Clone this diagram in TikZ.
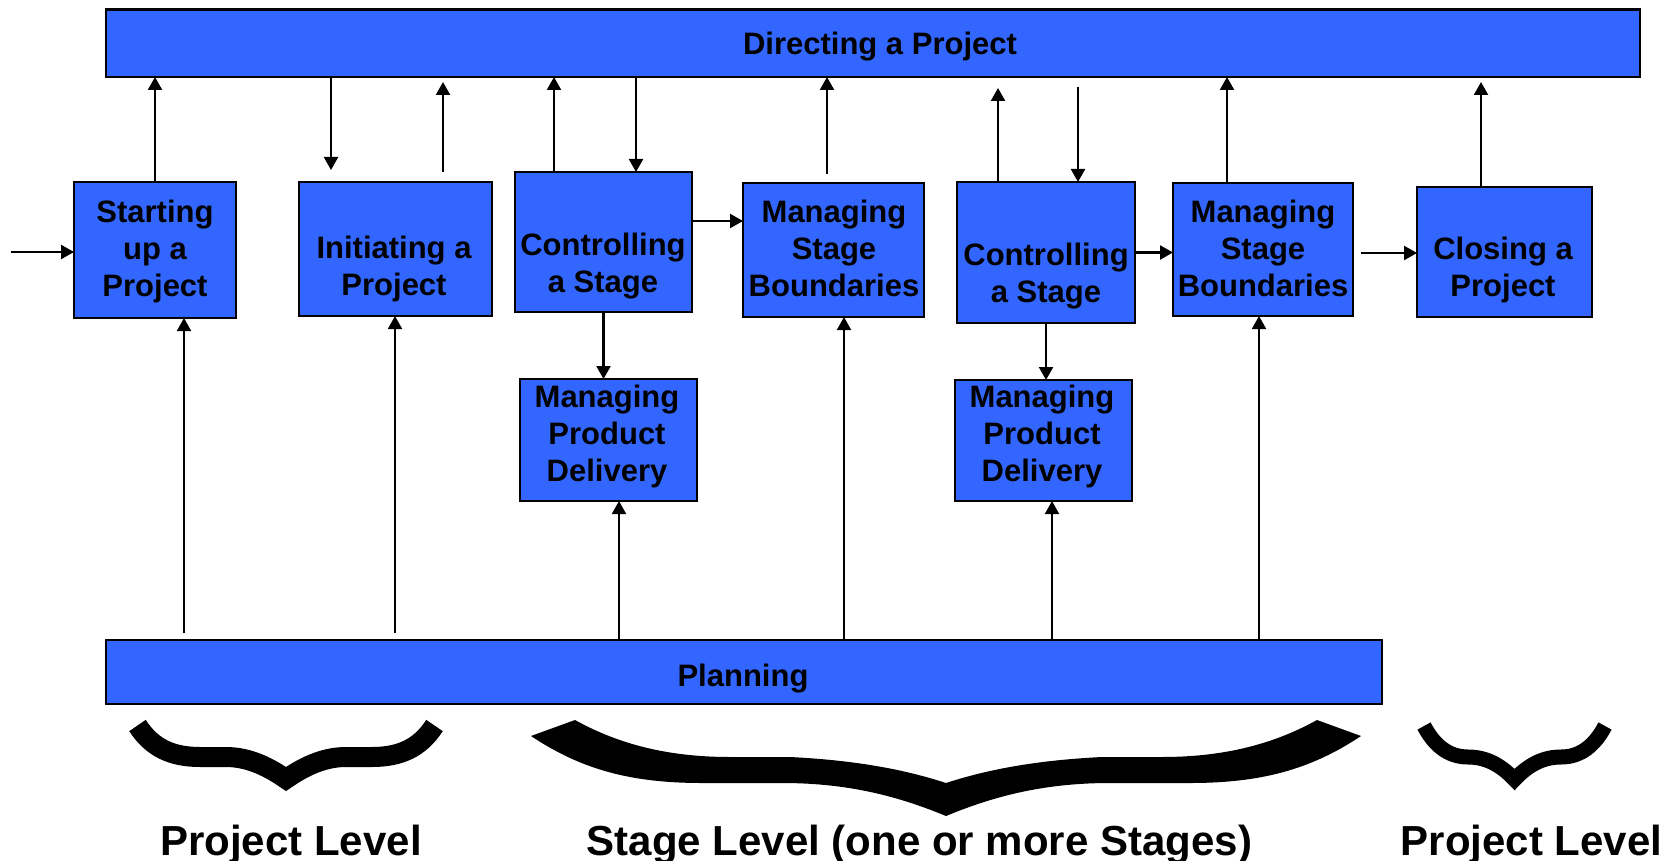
\documentclass[tikz,border=0pt]{standalone}
\usepackage{fontspec}
\setmainfont{Liberation Sans}
\usetikzlibrary{arrows.meta}
\definecolor{pblue}{RGB}{51,102,255}
\newcommand{\ls}{\rule[-7pt]{0pt}{31pt}}
\begin{document}
\begin{tikzpicture}[x=1pt,y=-1pt,
  box/.style={draw=black, line width=2.8pt, fill=pblue, inner sep=0pt, outer sep=0pt},
  txt/.style={font=\bfseries\fontsize{31}{37}\selectfont, align=center, inner sep=0pt},
  lvl/.style={font=\bfseries\fontsize{42}{50}\selectfont, inner sep=0pt, anchor=base},
  arr/.style={line width=2.3pt, -{Triangle[length=13pt,width=14pt]}},
  arrthin/.style={line width=1.9pt, -{Triangle[length=13pt,width=14pt]}},
  brace/.style={line cap=butt, line join=miter}]
\useasboundingbox (0,0) rectangle (1677,861);
\fill[white] (0,0) rectangle (1677,861);

% boxes
\node[box, minimum width=1534pt, minimum height=67.5pt] (dir) at (873,43.25) {};
\node[box, minimum width=1276pt, minimum height=64pt] (plan) at (744,672) {};
\node[box, minimum width=162pt, minimum height=136pt] (su) at (155,250) {};
\node[box, minimum width=193pt, minimum height=134pt] (ip) at (395.5,249) {};
\node[box, minimum width=177pt, minimum height=140pt] (cs1) at (603.5,242) {};
\node[box, minimum width=181pt, minimum height=134pt] (msb1) at (833.5,250) {};
\node[box, minimum width=177pt, minimum height=122pt] (mpd1) at (608.5,440) {};
\node[box, minimum width=178pt, minimum height=141pt] (cs2) at (1046,252.5) {};
\node[box, minimum width=180pt, minimum height=133pt] (msb2) at (1263,249.5) {};
\node[box, minimum width=177pt, minimum height=121pt] (mpd2) at (1043.5,440.5) {};
\node[box, minimum width=175pt, minimum height=130pt] (cl) at (1504.5,252) {};

% texts
\node[txt, anchor=base] (dirt) at (880,55) {Directing a Project};
\node[txt, anchor=base] (plant) at (743,686) {Planning};
\node[txt] (sut) at (155,250.5) {\ls Starting\\\ls up a\\\ls Project};
\node[txt] (ipt) at (394,268) {\ls Initiating a\\\ls Project};
\node[txt] (cs1t) at (603,265) {\ls Controlling\\\ls a Stage};
\node[txt] (msb1t) at (834,250.5) {\ls Managing\\\ls Stage\\\ls Boundaries};
\node[txt] (mpd1t) at (607,435.5) {\ls Managing\\\ls Product\\\ls Delivery};
\node[txt] (cs2t) at (1046,275) {\ls Controlling\\\ls a Stage};
\node[txt] (msb2t) at (1263,250.5) {\ls Managing\\\ls Stage\\\ls Boundaries};
\node[txt] (mpd2t) at (1042,435.5) {\ls Managing\\\ls Product\\\ls Delivery};
\node[txt] (clt) at (1503,269) {\ls Closing a\\\ls Project};

% connectors, upper
\coordinate (inS) at (11,252);
\draw[arr] (inS) -- (inS -| su.west);
\draw[arr] (su.north) -- (su.north |- dir.south);
\coordinate (ipDn) at (331,170);
\draw[arr] (ipDn |- dir.south) -- (ipDn);
\coordinate (ipUpA) at (443,172);
\coordinate (ipUpB) at (443,82);
\draw[arr] (ipUpA) -- (ipUpB);
\draw[arr] ([xshift=-49.5pt]cs1.north) -- ([xshift=-49.5pt]cs1.north |- dir.south);
\draw[arr] ([xshift=32.5pt]cs1.north |- dir.south) -- ([xshift=32.5pt]cs1.north);
\draw[arr] ([yshift=21pt]cs1.east) -- ([yshift=21pt]cs1.east -| msb1.west);
\coordinate (m1up) at (827,174);
\draw[arr] (m1up) -- (m1up |- dir.south);
\draw[arr] (cs1.south) -- (cs1.south |- mpd1.north);
\coordinate (c2upE) at (998,88);
\draw[arr] (c2upE |- cs2.north) -- (c2upE);
\coordinate (c2dnS) at (1078,87);
\draw[arr] (c2dnS) -- (c2dnS |- cs2.north);
\draw[arr] (cs2.east) -- (cs2.east -| msb2.west);
\draw[arr] ([xshift=-36pt]msb2.north) -- ([xshift=-36pt]msb2.north |- dir.south);
\coordinate (clIn) at (1361,253);
\draw[arr] (clIn) -- (clIn -| cl.west);
\draw[arr] (cs2.south) -- (cs2.south |- mpd2.north);
\coordinate (clUp) at (1481,82);
\draw[arr] (clUp |- cl.north) -- (clUp);

% connectors from planning
\coordinate (p1) at (184,633);
\draw[arrthin] (p1) -- (p1 |- su.south);
\coordinate (p2) at (395,633);
\draw[arrthin] (p2) -- (p2 |- ip.south);
\coordinate (p3) at (619,0);
\draw[arrthin] (p3 |- plan.north) -- (p3 |- mpd1.south);
\coordinate (p4) at (844,0);
\draw[arrthin] (p4 |- plan.north) -- (p4 |- msb1.south);
\coordinate (p5) at (1052,0);
\draw[arrthin] (p5 |- plan.north) -- (p5 |- mpd2.south);
\coordinate (p6) at (1259,0);
\draw[arrthin] (p6 |- plan.north) -- (p6 |- msb2.south);

% braces
\draw[brace, line width=20pt] (137.5,725.5) .. controls (152,748) and (172,757) .. (200,757)
  -- (226,757) .. controls (250,757) and (270,768) .. (286,779)
  .. controls (302,768) and (322,757) .. (346,757) -- (372,757)
  .. controls (400,757) and (420,748) .. (434.5,725.5);
\fill[black] (531,736) -- (575,720) .. controls (620,745) and (670,757) .. (730,757)
  -- (790,757) .. controls (850,760) and (900,768) .. (946,783)
  .. controls (992,768) and (1042,760) .. (1102,757) -- (1162,757)
  .. controls (1222,757) and (1272,745) .. (1317,720) -- (1361,736)
  .. controls (1310,770) and (1260,783) .. (1190,783) -- (1110,783)
  .. controls (1042,783) and (992,797) .. (946,816)
  .. controls (900,797) and (850,783) .. (782,783) -- (702,783)
  .. controls (632,783) and (582,770) .. (531,736) -- cycle;
\draw[brace, line width=15pt] (1424,726) .. controls (1434,745) and (1448,757) .. (1468,757)
  .. controls (1485,757) and (1500,764) .. (1514.5,779.5)
  .. controls (1529,764) and (1544,757) .. (1561,757)
  .. controls (1581,757) and (1595,745) .. (1605,726);

% level labels
\node[lvl] (lv1) at (291,855) {Project Level};
\node[lvl] (lv2) at (919.5,855) {Stage Level (one or more Stages)};
\node[lvl] (lv3) at (1531.5,855) {Project Level};
\end{tikzpicture}
\end{document}
